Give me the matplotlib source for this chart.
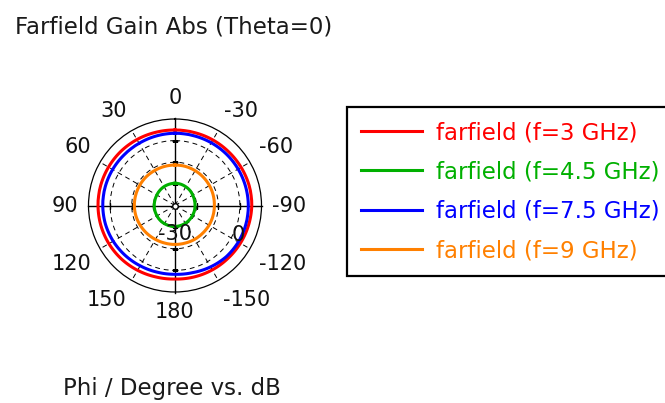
"""Farfield gain polar cut (Theta=0), CST style."""

import matplotlib

matplotlib.use("Agg")
import matplotlib.pyplot as plt
import numpy as np

# phi samples (deg), 0 at top, positive towards the left
phi_deg = [0, 15, 30, 45, 60, 75, 90, 105, 120, 135, 150, 165,
           180, 195, 210, 225, 240, 255, 270, 285, 300, 315, 330, 345]

gain_3ghz = [4.9, 5.0, 5.2, 5.4, 5.5, 5.6, 5.6, 5.5, 5.3, 5.0, 4.6, 4.2,
             4.0, 4.2, 4.4, 4.6, 4.9, 5.2, 5.5, 5.5, 5.3, 5.1, 5.0, 4.9]
gain_4p5ghz = [-19.7, -19.8, -19.9, -20.1, -20.3, -20.4, -20.4, -20.4, -20.4, -20.3, -20.3, -20.3,
               -20.3, -20.4, -20.5, -20.6, -20.7, -20.7, -20.75, -20.7, -20.5, -20.2, -20.0, -19.8]
gain_7p5ghz = [3.4, 3.3, 3.2, 3.2, 3.3, 3.4, 3.4, 3.3, 3.0, 2.6, 2.2, 1.9,
               1.8, 2.1, 2.8, 3.5, 3.8, 3.9, 3.9, 3.8, 3.7, 3.6, 3.5, 3.4]
gain_9ghz = [-11.3, -11.3, -11.3, -11.2, -11.2, -11.2, -11.2, -11.3, -11.5, -11.7, -11.9, -12.0,
             -12.0, -12.0, -11.9, -11.9, -11.8, -11.8, -11.8, -11.7, -11.6, -11.5, -11.4, -11.3]

series = [
    ("farfield (f=3 GHz)", gain_3ghz, "#ff0000"),
    ("farfield (f=4.5 GHz)", gain_4p5ghz, "#00b000"),
    ("farfield (f=7.5 GHz)", gain_7p5ghz, "#0000ff"),
    ("farfield (f=9 GHz)", gain_9ghz, "#ff8000"),
]

r_min, r_max = -30, 10
r_grid = [-20, -10, 0]
angle_ticks = list(range(0, 360, 30))

W, H = 665, 403
cx, cy, rad = 175, 205.5, 86.5

fig = plt.figure(figsize=(W / 100, H / 100), dpi=100)
ax = fig.add_axes([(cx - rad) / W, (H - cy - rad) / H, 2 * rad / W, 2 * rad / H],
                  projection="polar")
ax.set_theta_zero_location("N")
ax.set_theta_direction(1)
ax.set_ylim(r_min, r_max)

# dashed grid: circles and 30 deg spokes
ax.set_yticks(r_grid)
ax.set_yticklabels([])
ax.set_xticks(np.radians(angle_ticks))
ax.set_xticklabels([])
ax.grid(True, color="black", linestyle=(0, (5, 4)), linewidth=0.7)
ax.tick_params(axis="x", direction="in", length=4, width=0.8, colors="black")
ax.tick_params(axis="y", length=0)
ax.spines["polar"].set_linewidth(0.9)

# solid cross through the centre
for t in [0, 90, 180, 270]:
    ax.plot([np.radians(t)] * 2, [r_min, r_max + 0.4], color="black", lw=1.0,
            clip_on=False, zorder=3)
for t, m in [(0, "_"), (180, "_"), (90, "|"), (270, "|")]:
    ax.plot([np.radians(t)] * len(r_grid), r_grid, ls="none", marker=m,
            markersize=5, color="black", mew=1.0, zorder=3)
ax.plot([0], [r_min], marker="o", markersize=4, mfc="white", mec="black",
        mew=1.0, zorder=6)

# close each curve at 360 deg so the last segment runs forward
theta = np.radians(phi_deg + [360])
for label, vals, color in series:
    (line,) = ax.plot(theta, vals + [vals[0]], color=color, lw=2.2, label=label, zorder=4)
    # let the polar transform draw arcs between samples
    line.get_path()._interpolation_steps = 30

# angle labels outside the circle
r_lab = r_min + 97 / rad * (r_max - r_min)
for a in angle_ticks:
    dx, dy = -np.sin(np.radians(a)), np.cos(np.radians(a))
    ha = "right" if dx < -0.3 else ("left" if dx > 0.3 else "center")
    va = "bottom" if dy > 0.3 else ("top" if dy < -0.3 else "center")
    txt = str(a if a <= 180 else a - 360)
    ax.text(np.radians(a), r_lab, txt, ha=ha, va=va, fontsize=15, color="#111111")

# radial labels
ax.annotate("-30", xy=(0, r_min), xytext=(0, -29), textcoords="offset pixels",
            ha="center", va="center", fontsize=15, color="#111111", zorder=5)
ax.annotate("0", xy=(np.radians(270), 0), xytext=(-2, -29), textcoords="offset pixels",
            ha="center", va="center", fontsize=15, color="#111111", zorder=5)

fig.text(15 / W, 1 - 33 / H, "Farfield Gain Abs (Theta=0)", fontsize=16.5,
         color="#1a1a1a", va="baseline")
fig.text(63 / W, 1 - 395 / H, "Phi / Degree vs. dB", fontsize=16.5,
         color="#1a1a1a", va="baseline")

leg = fig.legend(loc="upper left", bbox_to_anchor=(347 / W, 1 - 107 / H),
                 bbox_transform=fig.transFigure, borderaxespad=0,
                 fontsize=16.5, handlelength=2.66, handletextpad=0.61,
                 borderpad=0.62, labelspacing=0.71, fancybox=False,
                 framealpha=1, labelcolor="linecolor")
leg.get_frame().set_edgecolor("black")
leg.get_frame().set_linewidth(1.6)

fig.savefig("out.png", dpi=100)
